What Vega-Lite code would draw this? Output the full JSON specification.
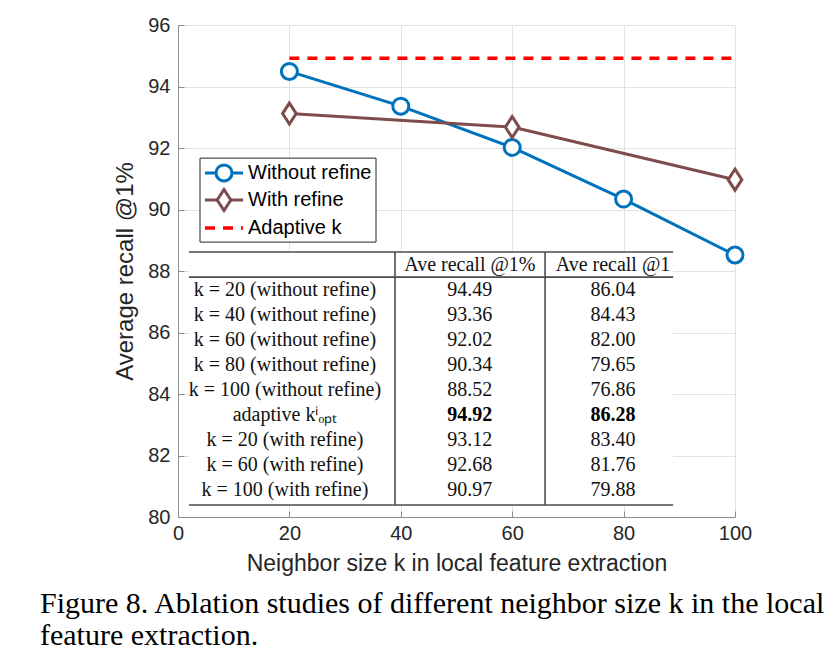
{
  "$schema": "https://vega.github.io/schema/vega-lite/v6.json",
  "autosize": {"type": "none"},
  "padding": {"left": 178, "top": 25, "right": 100, "bottom": 144},
  "width": 557,
  "height": 492,
  "background": "white",
  "config": {"view": {"stroke": null}},
  "title": {
    "text": ["Figure 8. Ablation studies of different neighbor size k in the local", "feature extraction."],
    "orient": "bottom",
    "anchor": "start",
    "frame": "group",
    "dx": -138,
    "offset": 14,
    "font": "Liberation Serif",
    "fontSize": 30,
    "fontWeight": "normal",
    "lineHeight": 32,
    "color": "#000000"
  },
  "datasets": {
    "series": [
      {"x": 20, "y": 94.49, "s": "Without refine"},
      {"x": 40, "y": 93.36, "s": "Without refine"},
      {"x": 60, "y": 92.02, "s": "Without refine"},
      {"x": 80, "y": 90.34, "s": "Without refine"},
      {"x": 100, "y": 88.52, "s": "Without refine"},
      {"x": 20, "y": 93.12, "s": "With refine"},
      {"x": 60, "y": 92.68, "s": "With refine"},
      {"x": 100, "y": 90.97, "s": "With refine"}
    ],
    "adaptive": [{"x": 20, "x2": 100, "y": 94.92}],
    "tablebox": [{"x": 1.97, "x2": 88.9, "y": 88.62, "y2": 80.39}],
    "tablerules": [
      {"x": 1.97, "x2": 88.9, "y": 88.62, "y2": 88.62},
      {"x": 1.97, "x2": 88.9, "y": 87.8, "y2": 87.8},
      {"x": 1.97, "x2": 88.9, "y": 80.39, "y2": 80.39},
      {"x": 38.96, "x2": 38.96, "y": 88.62, "y2": 80.39},
      {"x": 65.9, "x2": 65.9, "y": 88.62, "y2": 80.39}
    ],
    "cells": [
      {"x": 52.4, "y": 88.21, "t": "Ave recall @1%", "b": "n"},
      {"x": 78.1, "y": 88.21, "t": "Ave recall @1", "b": "n"},
      {"x": 19.2, "y": 87.38, "t": "k = 20 (without refine)", "b": "n"},
      {"x": 52.4, "y": 87.38, "t": "94.49", "b": "n"},
      {"x": 78.1, "y": 87.38, "t": "86.04", "b": "n"},
      {"x": 19.2, "y": 86.57, "t": "k = 40 (without refine)", "b": "n"},
      {"x": 52.4, "y": 86.57, "t": "93.36", "b": "n"},
      {"x": 78.1, "y": 86.57, "t": "84.43", "b": "n"},
      {"x": 19.2, "y": 85.75, "t": "k = 60 (without refine)", "b": "n"},
      {"x": 52.4, "y": 85.75, "t": "92.02", "b": "n"},
      {"x": 78.1, "y": 85.75, "t": "82.00", "b": "n"},
      {"x": 19.2, "y": 84.94, "t": "k = 80 (without refine)", "b": "n"},
      {"x": 52.4, "y": 84.94, "t": "90.34", "b": "n"},
      {"x": 78.1, "y": 84.94, "t": "79.65", "b": "n"},
      {"x": 19.2, "y": 84.13, "t": "k = 100 (without refine)", "b": "n"},
      {"x": 52.4, "y": 84.13, "t": "88.52", "b": "n"},
      {"x": 78.1, "y": 84.13, "t": "76.86", "b": "n"},
      {"x": 19.2, "y": 83.31, "t": "adaptive kⁱₒₚₜ", "b": "n"},
      {"x": 52.4, "y": 83.31, "t": "94.92", "b": "y"},
      {"x": 78.1, "y": 83.31, "t": "86.28", "b": "y"},
      {"x": 19.2, "y": 82.5, "t": "k = 20 (with refine)", "b": "n"},
      {"x": 52.4, "y": 82.5, "t": "93.12", "b": "n"},
      {"x": 78.1, "y": 82.5, "t": "83.40", "b": "n"},
      {"x": 19.2, "y": 81.69, "t": "k = 60 (with refine)", "b": "n"},
      {"x": 52.4, "y": 81.69, "t": "92.68", "b": "n"},
      {"x": 78.1, "y": 81.69, "t": "81.76", "b": "n"},
      {"x": 19.2, "y": 80.88, "t": "k = 100 (with refine)", "b": "n"},
      {"x": 52.4, "y": 80.88, "t": "90.97", "b": "n"},
      {"x": 78.1, "y": 80.88, "t": "79.88", "b": "n"}
    ],
    "legbox": [{"x": 3.95, "x2": 35.55, "y": 91.67, "y2": 88.94}],
    "legitems": [
      {"x": 4.85, "x2": 11.67, "xm": 8.26, "xt": 12.57, "y": 91.19, "s": "Without refine"},
      {"x": 4.85, "x2": 11.67, "xm": 8.26, "xt": 12.57, "y": 90.31, "s": "With refine"},
      {"x": 4.85, "x2": 11.67, "xm": 8.26, "xt": 12.57, "y": 89.4, "s": "Adaptive k"}
    ]
  },
  "layer": [
    {
      "data": {"name": "tablebox"},
      "mark": {"type": "rect", "fill": "white", "stroke": null},
      "encoding": {
        "x": {
          "field": "x", "type": "quantitative",
          "scale": {"domain": [0, 100], "nice": false, "zero": false},
          "axis": {
            "title": "Neighbor size k in local feature extraction",
            "values": [0, 20, 40, 60, 80, 100],
            "grid": true, "gridColor": "#e3e3e3", "gridWidth": 1,
            "domainColor": "#8c8c8c", "domainWidth": 1,
            "ticks": true, "tickSize": -6, "tickColor": "#8c8c8c",
            "labelFont": "Liberation Sans", "labelFontSize": 20, "labelColor": "#262626",
            "labelPadding": 12, "labelFlush": false,
            "titleFont": "Liberation Sans", "titleFontSize": 23, "titleFontWeight": "normal",
            "titleColor": "#262626", "titlePadding": 9
          }
        },
        "x2": {"field": "x2"},
        "y": {
          "field": "y", "type": "quantitative",
          "scale": {"domain": [80, 96], "nice": false, "zero": false},
          "axis": {
            "title": "Average recall @1%",
            "values": [80, 82, 84, 86, 88, 90, 92, 94, 96],
            "grid": true, "gridColor": "#e3e3e3", "gridWidth": 1,
            "domainColor": "#8c8c8c", "domainWidth": 1,
            "ticks": true, "tickSize": -6, "tickColor": "#8c8c8c",
            "labelFont": "Liberation Sans", "labelFontSize": 20, "labelColor": "#262626",
            "labelPadding": 14, "labelFlush": false,
            "titleFont": "Liberation Sans", "titleFontSize": 24, "titleFontWeight": "normal",
            "titleColor": "#262626", "titlePadding": 10
          }
        },
        "y2": {"field": "y2"}
      }
    },
    {
      "data": {"name": "tablerules"},
      "mark": {"type": "rule", "color": "#4d4d4d", "strokeWidth": 1.6},
      "encoding": {
        "x": {"field": "x", "type": "quantitative"},
        "x2": {"field": "x2"},
        "y": {"field": "y", "type": "quantitative"},
        "y2": {"field": "y2"}
      }
    },
    {
      "data": {"name": "cells"},
      "transform": [{"filter": "datum.b === 'n'"}],
      "mark": {"type": "text", "font": "Liberation Serif", "fontSize": 20, "fontWeight": "normal", "align": "center", "baseline": "middle", "color": "#111111"},
      "encoding": {
        "x": {"field": "x", "type": "quantitative"},
        "y": {"field": "y", "type": "quantitative"},
        "text": {"field": "t"}
      }
    },
    {
      "data": {"name": "cells"},
      "transform": [{"filter": "datum.b === 'y'"}],
      "mark": {"type": "text", "font": "Liberation Serif", "fontSize": 20, "fontWeight": "bold", "align": "center", "baseline": "middle", "color": "#000000"},
      "encoding": {
        "x": {"field": "x", "type": "quantitative"},
        "y": {"field": "y", "type": "quantitative"},
        "text": {"field": "t"}
      }
    },
    {
      "data": {"name": "adaptive"},
      "mark": {"type": "rule", "color": "#ff0000", "strokeWidth": 3.5, "strokeDash": [10, 8]},
      "encoding": {
        "x": {"field": "x", "type": "quantitative"},
        "x2": {"field": "x2"},
        "y": {"field": "y", "type": "quantitative"}
      }
    },
    {
      "data": {"name": "series"},
      "mark": {"type": "line", "strokeWidth": 3},
      "encoding": {
        "x": {"field": "x", "type": "quantitative"},
        "y": {"field": "y", "type": "quantitative"},
        "detail": {"field": "s"},
        "color": {"field": "s", "type": "nominal", "scale": {"domain": ["Without refine", "With refine"], "range": ["#0072bd", "#7e4c4c"]}, "legend": null}
      }
    },
    {
      "data": {"name": "series"},
      "mark": {"type": "point", "filled": false, "fill": "white", "fillOpacity": 1, "strokeWidth": 3, "opacity": 1},
      "encoding": {
        "x": {"field": "x", "type": "quantitative"},
        "y": {"field": "y", "type": "quantitative"},
        "color": {"field": "s", "type": "nominal", "legend": null},
        "shape": {"field": "s", "type": "nominal", "scale": {"domain": ["Without refine", "With refine"], "range": ["circle", "M0,-1L0.65,0L0,1L-0.65,0Z"]}, "legend": null},
        "size": {"field": "s", "type": "nominal", "scale": {"domain": ["Without refine", "With refine"], "range": [256, 441]}, "legend": null}
      }
    },
    {
      "data": {"name": "legbox"},
      "mark": {"type": "rect", "fill": "white", "stroke": "#262626", "strokeWidth": 1},
      "encoding": {
        "x": {"field": "x", "type": "quantitative"},
        "x2": {"field": "x2"},
        "y": {"field": "y", "type": "quantitative"},
        "y2": {"field": "y2"}
      }
    },
    {
      "data": {"name": "legitems"},
      "transform": [{"filter": "datum.s !== 'Adaptive k'"}],
      "mark": {"type": "rule", "strokeWidth": 3},
      "encoding": {
        "x": {"field": "x", "type": "quantitative"},
        "x2": {"field": "x2"},
        "y": {"field": "y", "type": "quantitative"},
        "color": {"field": "s", "type": "nominal", "legend": null}
      }
    },
    {
      "data": {"name": "legitems"},
      "transform": [{"filter": "datum.s === 'Adaptive k'"}],
      "mark": {"type": "rule", "strokeWidth": 3.5, "color": "#ff0000", "strokeDash": [10, 8]},
      "encoding": {
        "x": {"field": "x", "type": "quantitative"},
        "x2": {"field": "x2"},
        "y": {"field": "y", "type": "quantitative"}
      }
    },
    {
      "data": {"name": "legitems"},
      "transform": [{"filter": "datum.s !== 'Adaptive k'"}],
      "mark": {"type": "point", "filled": false, "fill": "white", "fillOpacity": 1, "strokeWidth": 3, "opacity": 1},
      "encoding": {
        "x": {"field": "xm", "type": "quantitative"},
        "y": {"field": "y", "type": "quantitative"},
        "color": {"field": "s", "type": "nominal", "legend": null},
        "shape": {"field": "s", "type": "nominal", "legend": null},
        "size": {"field": "s", "type": "nominal", "legend": null}
      }
    },
    {
      "data": {"name": "legitems"},
      "mark": {"type": "text", "font": "Liberation Sans", "fontSize": 20, "align": "left", "baseline": "middle", "color": "#000000"},
      "encoding": {
        "x": {"field": "xt", "type": "quantitative"},
        "y": {"field": "y", "type": "quantitative"},
        "text": {"field": "s"}
      }
    }
  ]
}
